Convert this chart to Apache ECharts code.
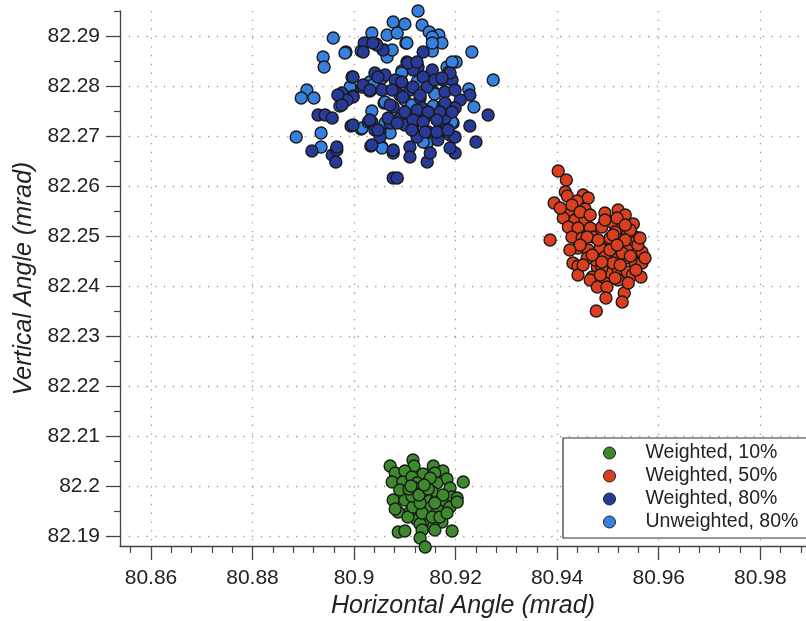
<!DOCTYPE html>
<html>
<head>
<meta charset="utf-8">
<script src="https://cdn.jsdelivr.net/npm/echarts@6/dist/echarts.min.js"></script>
<style>html,body{margin:0;padding:0;background:#fff}#c{width:806px;height:621px}</style>
</head>
<body>
<div id="c"></div>
<script>
const seriesNames = ['Weighted, 10%', 'Weighted, 50%', 'Weighted, 80%', 'Unweighted, 80%'];

const weighted10 = [
  [80.9071,82.2040],[80.9116,82.2052],[80.9118,82.2040],[80.9156,82.2040],[80.9175,82.2030],
  [80.9081,82.2026],[80.9100,82.2030],[80.9136,82.2024],[80.9159,82.2026],[80.9075,82.2008],
  [80.9215,82.2008],[80.9183,82.2014],[80.9096,82.2008],[80.9120,82.2006],[80.9144,82.2006],
  [80.9163,82.2006],[80.9104,82.1988],[80.9130,82.1992],[80.9154,82.1988],[80.9189,82.1996],
  [80.9193,82.1978],[80.9203,82.1976],[80.9077,82.1972],[80.9100,82.1972],[80.9124,82.1972],
  [80.9146,82.1972],[80.9173,82.1972],[80.9087,82.1948],[80.9110,82.1948],[80.9081,82.1954],
  [80.9144,82.1956],[80.9165,82.1952],[80.9189,82.1958],[80.9124,82.1932],[80.9146,82.1922],
  [80.9130,82.1924],[80.9173,82.1928],[80.9156,82.1918],[80.9106,82.1938],[80.9087,82.1908],
  [80.9100,82.1910],[80.9134,82.1912],[80.9159,82.1912],[80.9193,82.1910],[80.9130,82.1896],
  [80.9140,82.1878],[80.9114,82.2018],[80.9150,82.2016],[80.9090,82.1992],[80.9175,82.1982],
  [80.9116,82.1958],[80.9134,82.1946],[80.9154,82.1938],[80.9169,82.1938],[80.9114,82.1980],
  [80.9140,82.1978],[80.9159,82.1966],[80.9203,82.1968],[80.9183,82.1946],[80.9124,82.2006],
  [80.9130,82.1966],[80.9120,82.1996],[80.9136,82.1990],[80.9108,82.1994],[80.9128,82.1982],
  [80.9146,82.1994],[80.9112,82.2000],[80.9138,82.2002]
];

const weighted50 = [
  [80.9402,82.2630],[80.9418,82.2612],[80.9416,82.2588],[80.9420,82.2580],[80.9394,82.2566],
  [80.9451,82.2582],[80.9461,82.2576],[80.9439,82.2570],[80.9455,82.2554],[80.9425,82.2552],
  [80.9412,82.2536],[80.9435,82.2532],[80.9455,82.2532],[80.9422,82.2518],[80.9441,82.2516],
  [80.9465,82.2516],[80.9386,82.2492],[80.9429,82.2498],[80.9449,82.2496],[80.9471,82.2498],
  [80.9485,82.2488],[80.9494,82.2546],[80.9520,82.2552],[80.9534,82.2542],[80.9550,82.2524],
  [80.9508,82.2528],[80.9528,82.2518],[80.9514,82.2508],[80.9538,82.2502],[80.9554,82.2498],
  [80.9441,82.2476],[80.9461,82.2472],[80.9485,82.2476],[80.9508,82.2478],[80.9532,82.2482],
  [80.9548,82.2486],[80.9567,82.2468],[80.9494,82.2458],[80.9518,82.2458],[80.9538,82.2456],
  [80.9554,82.2446],[80.9567,82.2446],[80.9431,82.2446],[80.9441,82.2440],[80.9479,82.2438],
  [80.9500,82.2426],[80.9520,82.2432],[80.9538,82.2428],[80.9441,82.2422],[80.9469,82.2418],
  [80.9465,82.2412],[80.9494,82.2406],[80.9520,82.2412],[80.9548,82.2422],[80.9565,82.2418],
  [80.9479,82.2398],[80.9498,82.2398],[80.9532,82.2386],[80.9496,82.2376],[80.9528,82.2368],
  [80.9477,82.2350],[80.9459,82.2498],[80.9488,82.2518],[80.9504,82.2496],[80.9524,82.2492],
  [80.9538,82.2472],[80.9475,82.2452],[80.9510,82.2446],[80.9459,82.2456],[80.9488,82.2436],
  [80.9528,82.2466],[80.9544,82.2512],[80.9518,82.2536],[80.9494,82.2532],[80.9510,82.2502],
  [80.9534,82.2492],[80.9559,82.2482],[80.9544,82.2460],[80.9524,82.2442],[80.9555,82.2432],
  [80.9504,82.2472],[80.9481,82.2492],[80.9445,82.2482],[80.9469,82.2462],[80.9425,82.2472],
  [80.9451,82.2442],[80.9485,82.2422],[80.9514,82.2416],[80.9540,82.2406],[80.9573,82.2456],
  [80.9563,82.2496],[80.9518,82.2482],[80.9488,82.2448],[80.9534,82.2522],[80.9429,82.2562],
  [80.9445,82.2548],[80.9406,82.2556],[80.9465,82.2542]
];

const weighted80 = [
  [80.9020,82.2886],[80.8996,82.2818],[80.9041,82.2826],[80.9016,82.2798],[80.8976,82.2786],
  [80.8998,82.2778],[80.8986,82.2772],[80.8929,82.2742],[80.8943,82.2742],[80.8957,82.2736],
  [80.9028,82.2728],[80.8994,82.2720],[80.9051,82.2708],[80.8917,82.2670],[80.8957,82.2662],
  [80.8966,82.2672],[80.8964,82.2648],[80.9033,82.2680],[80.9077,82.2616],[80.9136,82.2868],
  [80.9104,82.2848],[80.9126,82.2838],[80.9116,82.2832],[80.9154,82.2832],[80.9136,82.2818],
  [80.9175,82.2812],[80.9193,82.2812],[80.9090,82.2808],[80.9144,82.2798],[80.9179,82.2788],
  [80.9228,82.2782],[80.9130,82.2776],[80.9134,82.2756],[80.9175,82.2760],[80.9195,82.2756],
  [80.9077,82.2758],[80.9264,82.2742],[80.9090,82.2736],[80.9144,82.2742],[80.9175,82.2726],
  [80.9071,82.2726],[80.9228,82.2720],[80.9116,82.2712],[80.9146,82.2708],[80.9169,82.2708],
  [80.9189,82.2702],[80.9199,82.2698],[80.9124,82.2698],[80.9240,82.2688],[80.9110,82.2678],
  [80.9077,82.2666],[80.9110,82.2658],[80.9199,82.2666],[80.9144,82.2648],[80.9085,82.2616],
  [80.9110,82.2792],[80.9159,82.2812],[80.9179,82.2736],[80.9100,82.2722],[80.9130,82.2732],
  [80.9209,82.2772],[80.9165,82.2692],[80.9090,82.2782],
  [80.9057,82.2872],[80.9045,82.2882],[80.9106,82.2846],[80.9124,82.2848],[80.9189,82.2826],
  [80.9061,82.2822],[80.9081,82.2812],[80.9094,82.2808],[80.9173,82.2816],[80.9055,82.2792],
  [80.9075,82.2792],[80.9116,82.2798],[80.9199,82.2792],[80.9096,82.2778],[80.9130,82.2782],
  [80.9071,82.2762],[80.9179,82.2766],[80.9199,82.2756],[80.9100,82.2748],[80.9124,82.2752],
  [80.9146,82.2748],[80.9169,82.2748],[80.9193,82.2748],[80.9067,82.2736],[80.9035,82.2728],
  [80.9085,82.2726],[80.9116,82.2732],[80.9136,82.2728],[80.9163,82.2732],[80.9041,82.2712],
  [80.9114,82.2712],[80.9140,82.2708],[80.9163,82.2708],[80.9185,82.2712],[80.9051,82.2698],
  [80.9077,82.2672],[80.9189,82.2676],[80.9150,82.2666],[80.9018,82.2868],[80.9037,82.2886],
  [80.8998,82.2818],[80.8968,82.2782],[80.8976,82.2762],[80.9018,82.2802],[80.9031,82.2792],
  [80.9047,82.2818],[80.8998,82.2722],[80.9031,82.2732],[80.9047,82.2712],[80.8966,82.2678],
  [80.9035,82.2682]
];

const unweighted80 = [
  [80.8959,82.2896],[80.8939,82.2858],[80.8941,82.2838],[80.8984,82.2868],[80.9014,82.2870],
  [80.9035,82.2906],[80.9043,82.2884],[80.9065,82.2902],[80.9059,82.2872],[80.9065,82.2858],
  [80.9031,82.2808],[80.9055,82.2816],[80.9031,82.2790],[80.8907,82.2792],[80.8896,82.2776],
  [80.8921,82.2776],[80.8992,82.2798],[80.8972,82.2760],[80.9035,82.2750],[80.9059,82.2766],
  [80.9014,82.2714],[80.9065,82.2708],[80.8886,82.2698],[80.8935,82.2706],[80.8935,82.2678],
  [80.9055,82.2678],[80.9126,82.2950],[80.9077,82.2928],[80.9100,82.2924],[80.9134,82.2922],
  [80.9148,82.2908],[80.9167,82.2902],[80.9173,82.2886],[80.9154,82.2898],[80.9085,82.2906],
  [80.9102,82.2886],[80.9075,82.2872],[80.9154,82.2870],[80.9232,82.2868],[80.9201,82.2848],
  [80.9094,82.2830],[80.9183,82.2838],[80.9187,82.2828],[80.9124,82.2808],[80.9159,82.2786],
  [80.9274,82.2812],[80.9226,82.2794],[80.9100,82.2772],[80.9116,82.2758],[80.9156,82.2760],
  [80.9236,82.2758],[80.9195,82.2726],[80.9144,82.2686],[80.9071,82.2706],
  [80.9104,82.2886],[80.9154,82.2886],[80.9193,82.2848],[80.9094,82.2826],[80.9150,82.2806],
  [80.9035,82.2794],[80.9159,82.2784],[80.9061,82.2768],[80.9114,82.2762],[80.9061,82.2726],
  [80.9193,82.2728],[80.9136,82.2688],[80.8982,82.2866],[80.8998,82.2780],[80.9037,82.2802],
  [80.9016,82.2716],[80.9055,82.2676]
];

const xMajorTicks = [80.86, 80.88, 80.90, 80.92, 80.94, 80.96, 80.98];
const xMinorTicks = [80.856, 80.864, 80.868, 80.872, 80.876, 80.884, 80.888, 80.892, 80.896,
  80.904, 80.908, 80.912, 80.916, 80.924, 80.928, 80.932, 80.936, 80.944, 80.948, 80.952, 80.956,
  80.964, 80.968, 80.972, 80.976, 80.984, 80.988];
const yMajorTicks = [82.19, 82.20, 82.21, 82.22, 82.23, 82.24, 82.25, 82.26, 82.27, 82.28, 82.29];
const yMinorTicks = [82.195, 82.205, 82.215, 82.225, 82.235, 82.245, 82.255, 82.265, 82.275, 82.285, 82.295];

const colors = ['#3d8a2d', '#dc3f1f', '#283a98', '#3681e0'];
const FONT = '"Liberation Sans", Arial, Helvetica, sans-serif';

const chart = echarts.init(document.getElementById('c'));
const axisColor = '#444';
const splitStyle = { show: true, lineStyle: { color: '#999', width: 1.3, type: [1.3, 7.5] } };

const xBase = { type: 'value', min: 80.8539, max: 80.989, gridIndex: 0 };
const yBase = { type: 'value', min: 82.188, max: 82.295, gridIndex: 0 };

chart.setOption({
  animation: false,
  backgroundColor: '#fff',
  grid: { left: 120, right: 0, top: 11, bottom: 75, containLabel: false, outerBoundsMode: 'none' },
  xAxis: [
    Object.assign({}, xBase, {
      position: 'bottom',
      name: 'Horizontal Angle (mrad)',
      nameLocation: 'middle',
      nameGap: 46,
      nameTextStyle: { fontFamily: FONT, fontStyle: 'italic', fontSize: 25, color: '#222' },
      axisLine: { show: true, onZero: false, lineStyle: { color: axisColor, width: 1.3 } },
      axisTick: { show: true, inside: false, length: 14, customValues: xMajorTicks, lineStyle: { color: axisColor, width: 1.3 } },
      axisLabel: { show: true, customValues: xMajorTicks, margin: 22, fontFamily: FONT, fontSize: 21, color: '#222',
                   formatter: v => String(+v.toFixed(2)) },
      splitLine: splitStyle
    }),
    Object.assign({}, xBase, {
      position: 'bottom',
      axisLine: { show: false },
      axisTick: { show: true, inside: false, length: 7, customValues: xMinorTicks, lineStyle: { color: axisColor, width: 1.2 } },
      axisLabel: { show: false },
      splitLine: { show: false }
    })
  ],
  yAxis: [
    Object.assign({}, yBase, {
      position: 'left',
      name: 'Vertical Angle (mrad)',
      nameLocation: 'middle',
      nameGap: 82,
      nameTextStyle: { fontFamily: FONT, fontStyle: 'italic', fontSize: 25, color: '#222' },
      axisLine: { show: true, onZero: false, lineStyle: { color: axisColor, width: 1.3 } },
      axisTick: { show: true, inside: false, length: 14, customValues: yMajorTicks, lineStyle: { color: axisColor, width: 1.3 } },
      axisLabel: { show: true, customValues: yMajorTicks, margin: 20, fontFamily: FONT, fontSize: 21, color: '#222',
                   formatter: v => String(+v.toFixed(2)) },
      splitLine: splitStyle
    }),
    Object.assign({}, yBase, {
      position: 'left',
      axisLine: { show: false },
      axisTick: { show: true, inside: false, length: 6, customValues: yMinorTicks, lineStyle: { color: axisColor, width: 1.2 } },
      axisLabel: { show: false },
      splitLine: { show: false }
    })
  ],
  legend: {
    left: 563, top: 438,
    orient: 'vertical',
    data: seriesNames,
    icon: 'circle',
    itemWidth: 12, itemHeight: 12,
    itemGap: 3,
    padding: [5, 30, 6, 40],
    backgroundColor: '#fff',
    borderColor: '#333',
    borderWidth: 1.2,
    borderRadius: 0,
    textStyle: { fontFamily: FONT, fontSize: 19.5, lineHeight: 20, color: '#222', padding: [0, 0, 0, 25] },
    itemStyle: { borderColor: '#222', borderWidth: 1 }
  },
  series: [
    { name: seriesNames[0], data: weighted10, color: colors[0] },
    { name: seriesNames[1], data: weighted50, color: colors[1] },
    { name: seriesNames[3], data: unweighted80, color: colors[3] },
    { name: seriesNames[2], data: weighted80, color: colors[2] }
  ].map(s => ({
    type: 'scatter', name: s.name, data: s.data, xAxisIndex: 0, yAxisIndex: 0,
    symbol: 'circle', symbolSize: 12, clip: false,
    itemStyle: { color: s.color, borderColor: '#1a1a1a', borderWidth: 1.4, opacity: 1 },
    emphasis: { disabled: true }
  }))
});
</script>
</body>
</html>
